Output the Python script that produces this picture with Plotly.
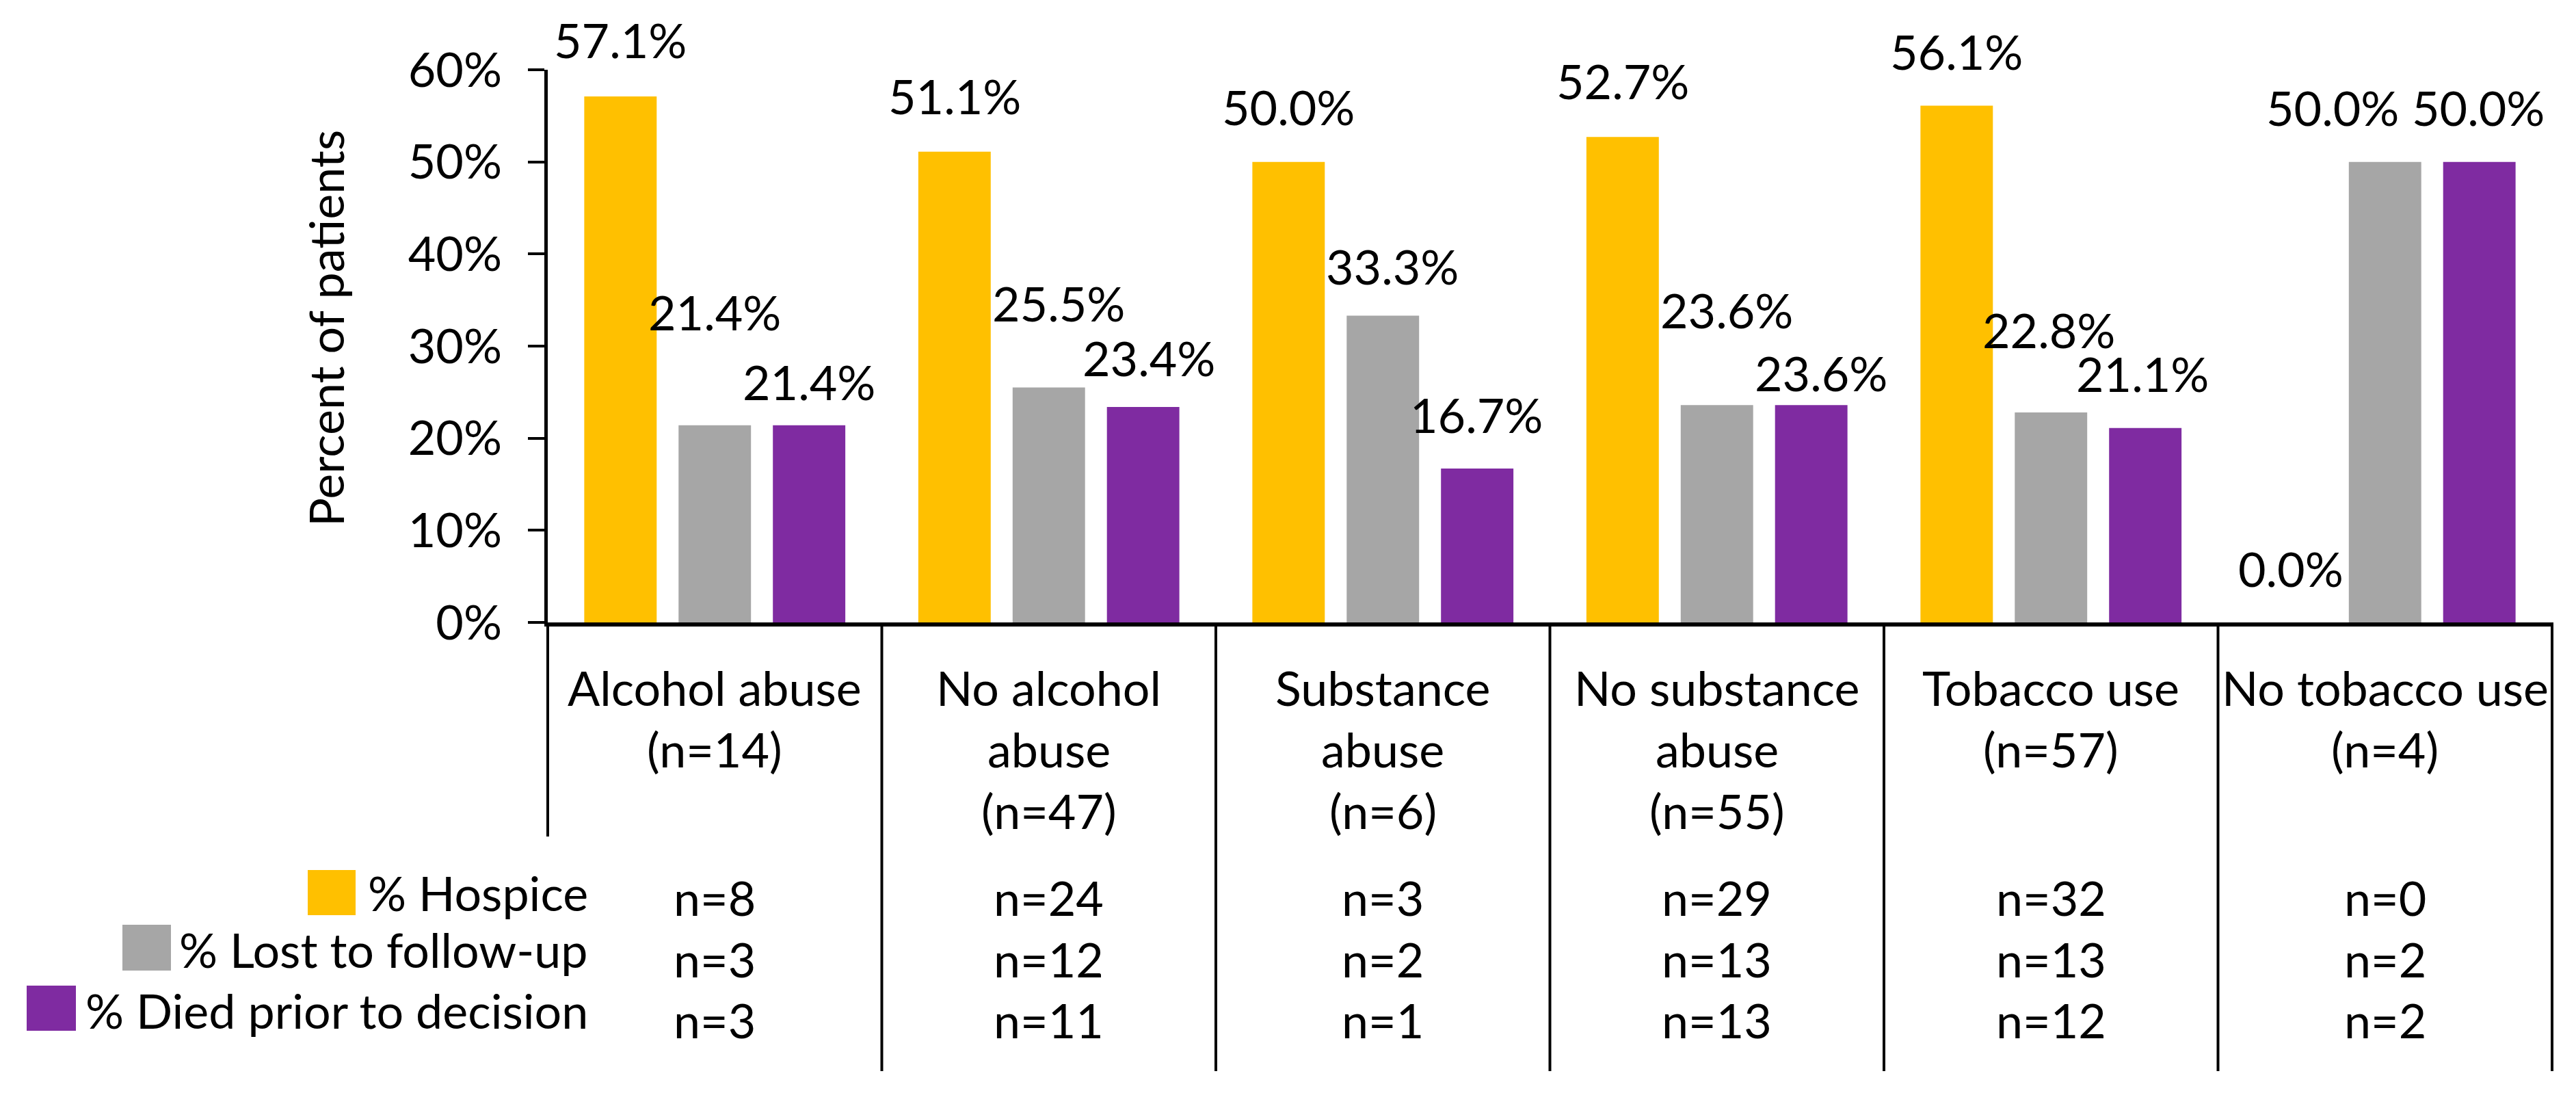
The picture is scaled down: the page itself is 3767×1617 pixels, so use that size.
import plotly.graph_objects as go

# ---------------- data ----------------
categories = [
    "Alcohol abuse<br>(n=14)",
    "No alcohol<br>abuse<br>(n=47)",
    "Substance<br>abuse<br>(n=6)",
    "No substance<br>abuse<br>(n=55)",
    "Tobacco use<br>(n=57)",
    "No tobacco use<br>(n=4)",
]
series_names = ["% Hospice", "% Lost to follow-up", "% Died prior to decision"]
hospice = [57.1, 51.1, 50.0, 52.7, 56.1, 0.0]
lost = [21.4, 25.5, 33.3, 23.6, 22.8, 50.0]
died = [21.4, 23.4, 16.7, 23.6, 21.1, 50.0]
n_hospice = [8, 24, 3, 29, 32, 0]
n_lost = [3, 12, 2, 13, 13, 2]
n_died = [3, 11, 1, 13, 12, 2]
y_ticks = [0, 10, 20, 30, 40, 50, 60]
y_tick_labels = [f"{v}%" for v in y_ticks]
y_title = "Percent of patients"

# ---------------- style ----------------
colors = ["#FFC000", "#A6A6A6", "#7F2BA1"]
# label placement (pixels above the bar top / horizontal nudge), as in the original
label_lift = [
    [83, 82, 81, 82, 80, 79],
    [166, 124, 73, 139, 121, 80],
    [64, 72, 79, 47, 80, 80],
]
label_nudge = [
    [0, 0, 0, 0, 0, 0],
    [0, 14, 14, 14, -3, -77],
    [0, 8, -1, 14, -4, -2],
]

W, H = 3767, 1617
L, R, T, B = 793, 43, 94, 715
PW = W - L - R
PH = H - T - B
PB = T + PH
FONT = "Lato"
FS = 70
BARGAP = 0.153
GROUPGAP = 0.232
SLOT = PW / len(categories) * (1 - BARGAP) / 3


def xp(px):
    return (px - L) / PW


def yp(py):
    return (PB - py) / PH


fig = go.Figure()
for name, vals, col in zip(series_names, [hospice, lost, died], colors):
    fig.add_trace(go.Bar(x=categories, y=vals, name=name, marker_color=col,
                         marker_line_width=0, showlegend=False, hoverinfo="skip"))

ann = []
# data labels
for j, vals in enumerate([hospice, lost, died]):
    for i, v in enumerate(vals):
        ann.append(dict(x=categories[i], y=v, xref="x", yref="y", text=f"{v:.1f}%",
                        showarrow=False, xanchor="center", yanchor="middle",
                        xshift=(j - 1) * SLOT + label_nudge[j][i], yshift=label_lift[j][i],
                        font=dict(family=FONT, size=FS, color="black")))
# category labels (multi-line, below axis)
for i, lab in enumerate(categories):
    for k, line in enumerate(lab.split("<br>")):
        ann.append(dict(x=categories[i], y=yp(997 + 90 * k), xref="x", yref="paper",
                        text=line, showarrow=False, xanchor="center", yanchor="middle",
                        font=dict(family=FONT, size=FS, color="black")))
# n table
row_y = [1304, 1394, 1483]
for r, ns in enumerate([n_hospice, n_lost, n_died]):
    for i, n in enumerate(ns):
        ann.append(dict(x=categories[i], y=yp(row_y[r]), xref="x", yref="paper",
                        text=f"n={n}", showarrow=False, xanchor="center", yanchor="middle",
                        font=dict(family=FONT, size=FS, color="black")))
# legend (drawn manually: swatch then right-aligned text)
leg_text_y = [1297, 1380, 1469]
swatches = [(442, 512, 1264, 1330), (171, 242, 1344, 1411), (31, 103, 1433, 1499)]
shapes = []
for name, col, ty, (x0, x1, y0, y1) in zip(series_names, colors, leg_text_y, swatches):
    ann.append(dict(x=xp(854), y=yp(ty), xref="paper", yref="paper", text=name,
                    showarrow=False, xanchor="right", yanchor="middle",
                    font=dict(family=FONT, size=FS, color="black")))
    shapes.append(dict(type="rect", xref="paper", yref="paper", x0=xp(x0), x1=xp(x1),
                       y0=yp(y1), y1=yp(y0), fillcolor=col, line_width=0))
# y title
ann.append(dict(x=xp(468), y=yp(472), xref="paper", yref="paper", text=y_title,
                showarrow=False, textangle=-90, xanchor="center", yanchor="middle",
                font=dict(family=FONT, size=FS, color="black")))

# category separators below the axis
ncat = len(categories)
for k in range(ncat + 1):
    bottom = 1215 if k == 0 else 1558
    shapes.append(dict(type="line", xref="paper", yref="paper", x0=k / ncat, x1=k / ncat,
                       y0=0, y1=yp(bottom), line=dict(color="black", width=4)))

fig.update_layout(
    width=W, height=H,
    margin=dict(l=L, r=R, t=T, b=B, autoexpand=False),
    paper_bgcolor="white", plot_bgcolor="white",
    barmode="group", bargap=BARGAP, bargroupgap=GROUPGAP,
    annotations=ann, shapes=shapes,
    font=dict(family=FONT, size=FS, color="black"),
)
fig.update_xaxes(showticklabels=False, ticks="", showline=True, linecolor="black",
                 linewidth=6, showgrid=False, zeroline=False, automargin=False)
fig.update_yaxes(range=[0, 60], tickmode="array", tickvals=y_ticks, ticktext=y_tick_labels,
                 ticks="outside", ticklen=24, tickwidth=4, tickcolor="black", showline=True,
                 linecolor="black", linewidth=5, showgrid=False, zeroline=False,
                 automargin=False, ticklabelstandoff=24,
                 tickfont=dict(family=FONT, size=FS, color="black"))

fig.write_html("out.html")
